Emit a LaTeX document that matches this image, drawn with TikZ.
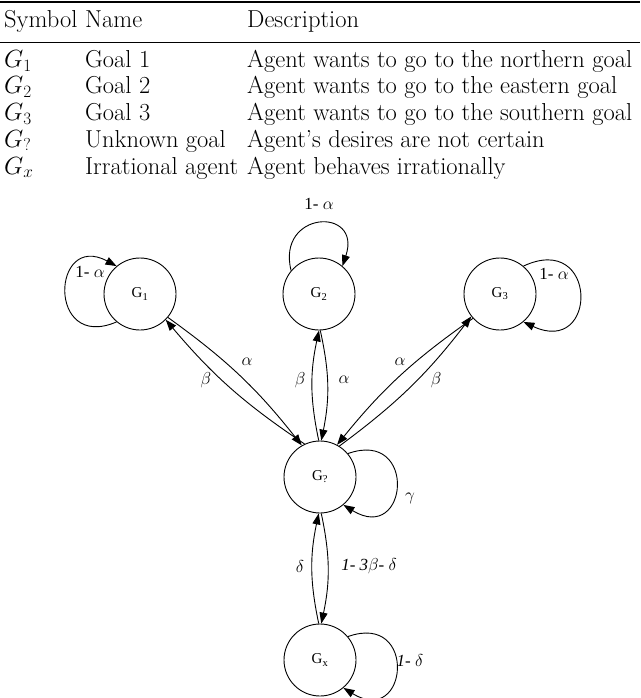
\documentclass[tikz,border=0pt]{standalone}
\usepackage{fontspec}
\usetikzlibrary{arrows.meta}
\newfontfamily\tms{Liberation Serif}
\begin{document}
\begin{tikzpicture}[x=1pt,y=-1pt,
  tbl/.style={anchor=base west,inner sep=0pt,font=\fontsize{24.5}{28}\selectfont},
  st/.style={circle,draw,line width=0.9pt,minimum size=72pt,inner sep=0pt,font=\tms\fontsize{15}{18}\selectfont},
  ed/.style={line width=0.9pt,-{Triangle[length=11pt,width=8pt]}},
  lb/.style={font=\tms\fontsize{17}{19}\selectfont}]
\useasboundingbox (0,0) rectangle (640,698);
\draw[line width=1.6pt] (0,2) -- (640,2);
\draw[line width=0.9pt] (0,42) -- (640,42);
\node[tbl] (h1) at (4,28) {Symbol};
\node[tbl] (h2) at (85,28) {Name};
\node[tbl] (h3) at (247,28) {Description};
\node[tbl] (a1) at (4,68) {$G_1$};
\node[tbl] (b1) at (85,68) {Goal 1};
\node[tbl] (c1) at (247,68) {Agent wants to go to the northern goal};
\node[tbl] (a2) at (4,94) {$G_2$};
\node[tbl] (b2) at (85,94) {Goal 2};
\node[tbl] (c2) at (247,94) {Agent wants to go to the eastern goal};
\node[tbl] (a3) at (4,121) {$G_3$};
\node[tbl] (b3) at (85,121) {Goal 3};
\node[tbl] (c3) at (247,121) {Agent wants to go to the southern goal};
\node[tbl] (a4) at (4,147) {$G_?$};
\node[tbl] (b4) at (85,147) {Unknown goal};
\node[tbl] (c4) at (247,147) {Agent's desires are not certain};
\node[tbl] (a5) at (4,174) {$G_x$};
\node[tbl] (b5) at (85,174) {Irrational agent};
\node[tbl] (c5) at (247,174) {Agent behaves irrationally};

\node[st] (g1) at (140,294) {G\textsubscript{1}};
\node[st] (g2) at (319,294) {G\textsubscript{2}};
\node[st] (g3) at (500,294) {G\textsubscript{3}};
\node[st] (gq) at (320,477) {G\textsubscript{?}};
\node[st] (gx) at (320,660) {G\textsubscript{x}};

\draw[ed] (g1.230) .. controls +(-70,30) and +(-65,-35) .. (g1.130);
\node[lb] (l1) at (90,272) {1- $\alpha$};
\draw[ed] (g2.140) .. controls +(-15,-60) and +(20,-60) .. (g2.50);
\node[lb] (l2) at (319,204) {1- $\alpha$};
\draw[ed] (g3.50) .. controls +(75,-35) and +(75,35) .. (g3.-50);
\node[lb] (l3) at (554,274) {1- $\alpha$};
\draw[ed] (gq.40) .. controls +(70,-25) and +(65,40) .. (gq.-50);
\node[lb] (lg) at (410,498) {$\gamma$};
\draw[ed] (gx.40) .. controls +(70,-25) and +(65,40) .. (gx.-50);
\node[lb] (lx) at (410,660) {\itshape 1- $\delta$};

\draw[ed] (gq.115) to[bend left=8] (g1.-45);
\draw[ed] (g1.-40) to[bend left=8] (gq.120);
\node[lb] (b1l) at (206,380) {$\beta$};
\node[lb] (a1l) at (247,362) {$\alpha$};
\draw[ed] (gq.92) to[bend left=12] (g2.-90);
\draw[ed] (g2.-88) to[bend left=12] (gq.88);
\node[lb] (b2l) at (300,380) {$\beta$};
\node[lb] (a2l) at (344,380) {$\alpha$};
\draw[ed] (g3.-138) to[bend right=8] (gq.62);
\draw[ed] (gq.58) to[bend right=8] (g3.-142);
\node[lb] (a3l) at (400,362) {$\alpha$};
\node[lb] (b3l) at (436,380) {$\beta$};
\draw[ed] (gx.92) to[bend left=12] (gq.-92);
\draw[ed] (gq.-88) to[bend left=12] (gx.88);
\node[lb] (dl) at (300,566) {$\delta$};
\node[lb] (ol) at (369,566) {\itshape 1- 3$\beta$- $\delta$};
\end{tikzpicture}
\end{document}
